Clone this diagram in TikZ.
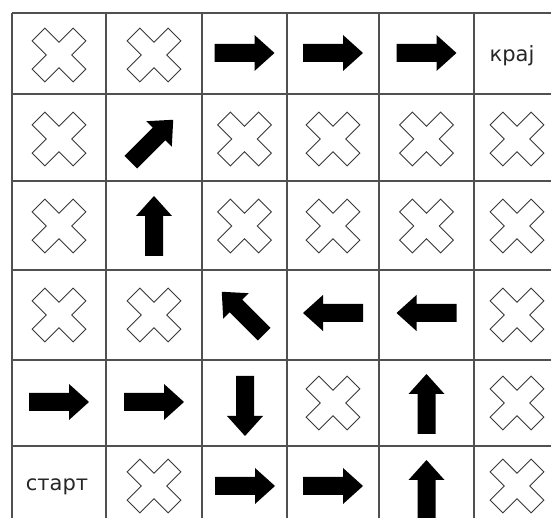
\documentclass[tikz,border=0pt]{standalone}
\usepackage{fontspec}
\setsansfont{DejaVu Sans}
\definecolor{gridline}{RGB}{80,80,80}
\definecolor{crossline}{RGB}{55,55,55}
\definecolor{arrowfill}{RGB}{0,0,0}

\begin{document}
\begin{tikzpicture}[
  x=1pt, y=1pt,
  font=\sffamily,
  gridrule/.style={gridline, line width=1.6pt},
  celltext/.style={font=\sffamily\fontsize{21}{24}\selectfont, text=black!85, inner sep=0pt},
  blockarrow/.pic={
    \fill[arrowfill] (-30,-9) -- (10,-9) -- (10,-18) -- (30,0)
      -- (10,18) -- (10,9) -- (-30,9) -- cycle;
  },
  nogo/.pic={
    \draw[crossline, line width=1pt, fill=white, rotate=45]
      (9,9) -- (29,9) -- (29,-9) -- (9,-9) -- (9,-29) -- (-9,-29)
      -- (-9,-9) -- (-29,-9) -- (-29,9) -- (-9,9) -- (-9,29) -- (9,29) -- cycle;
  }
]

\useasboundingbox (0,0) rectangle (551,518);
\clip (0,0) rectangle (551,518);

% =====================================================================
% Grid
% =====================================================================
\draw[gridrule] (12,505) -- (560,505);
\draw[gridrule] (12,424) -- (560,424);
\draw[gridrule] (12,337) -- (560,337);
\draw[gridrule] (12,248) -- (560,248);
\draw[gridrule] (12,158) -- (560,158);
\draw[gridrule] (12,72) -- (560,72);

\draw[gridrule] (12,505) -- (12,-10);
\draw[gridrule] (106,505) -- (106,-10);
\draw[gridrule] (202,505) -- (202,-10);
\draw[gridrule] (287,505) -- (287,-10);
\draw[gridrule] (379,505) -- (379,-10);
\draw[gridrule] (474,505) -- (474,-10);

% =====================================================================
% Row 1
% =====================================================================
\pic (c11) at (59,463) {nogo};
\pic (c12) at (154,463) {nogo};
\pic (c13) at (244.5,465) {blockarrow};
\pic (c14) at (333,465) {blockarrow};
\pic (c15) at (426.5,465) {blockarrow};
\node[celltext] (End) at (512,462) {крај};

% =====================================================================
% Row 2
% =====================================================================
\pic (c21) at (59,379) {nogo};
\pic[rotate=45] (c22) at (152,377) {blockarrow};
\pic (c23) at (244.5,379) {nogo};
\pic (c24) at (333,379) {nogo};
\pic (c25) at (426.5,379) {nogo};
\pic (c26) at (517,379) {nogo};

% =====================================================================
% Row 3
% =====================================================================
\pic (c31) at (59,292) {nogo};
\pic[rotate=90] (c32) at (154,292) {blockarrow};
\pic (c33) at (244.5,292) {nogo};
\pic (c34) at (333,292) {nogo};
\pic (c35) at (426.5,292) {nogo};
\pic (c36) at (517,292) {nogo};

% =====================================================================
% Row 4
% =====================================================================
\pic (c41) at (59,203) {nogo};
\pic (c42) at (154,203) {nogo};
\pic[rotate=135] (c43) at (243,205) {blockarrow};
\pic[rotate=180] (c44) at (333,205) {blockarrow};
\pic[rotate=180] (c45) at (426.5,205) {blockarrow};
\pic (c46) at (517,203) {nogo};

% =====================================================================
% Row 5
% =====================================================================
\pic (c51) at (59,116) {blockarrow};
\pic (c52) at (154,116) {blockarrow};
\pic[rotate=-90] (c53) at (245,112) {blockarrow};
\pic (c54) at (333,115) {nogo};
\pic[rotate=90] (c55) at (426.5,114) {blockarrow};
\pic (c56) at (517,115) {nogo};

% =====================================================================
% Row 6
% =====================================================================
\node[celltext] (Start) at (57,31) {старт};
\pic (c62) at (154,32) {nogo};
\pic (c63) at (245,32) {blockarrow};
\pic (c64) at (333,32) {blockarrow};
\pic[rotate=90] (c65) at (426.5,28) {blockarrow};
\pic (c66) at (517,32) {nogo};

\end{tikzpicture}
\end{document}
